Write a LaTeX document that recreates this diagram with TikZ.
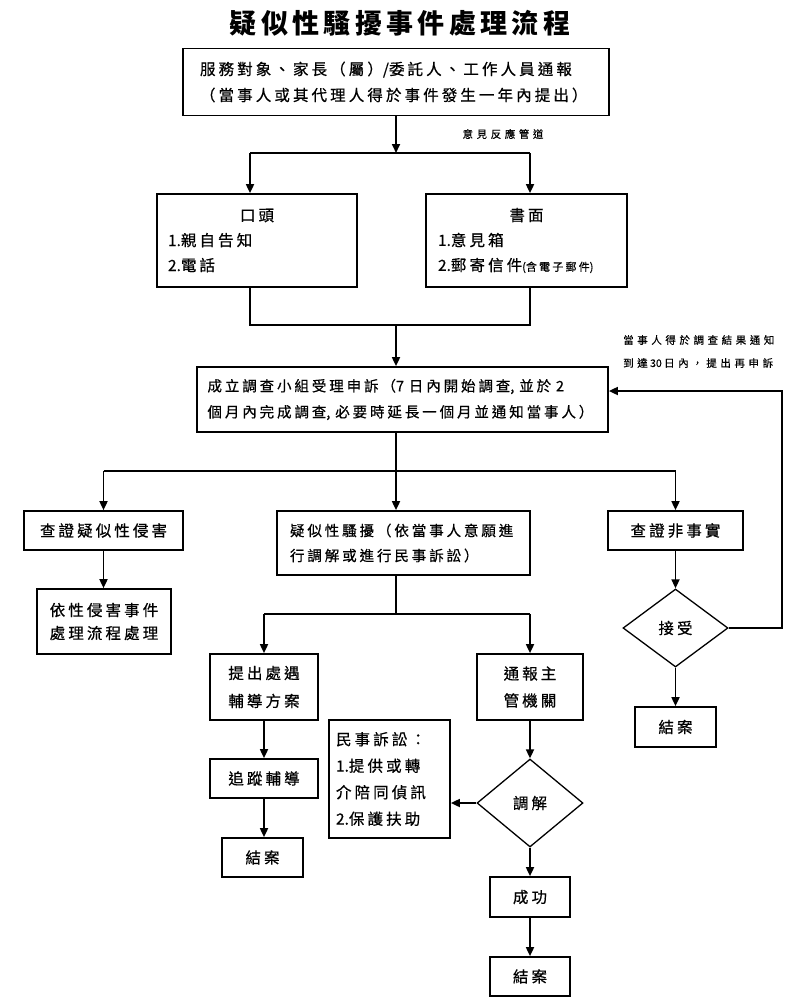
\documentclass[tikz,border=0pt]{standalone}
\usepackage{fontspec}
\setmainfont{Noto Sans CJK TC}[LetterSpace=20, FakeBold=0.6]
\newfontfamily\titlefont{Noto Sans CJK TC}[LetterSpace=16]
\newfontfamily\smallfont{Noto Sans CJK TC}[LetterSpace=34, FakeBold=0.5]
\newfontfamily\latinface{Noto Sans CJK TC}[FakeBold=0.6]
\newcommand\nls[1]{{\latinface #1}}
\usetikzlibrary{arrows.meta,shapes.geometric}
\begin{document}
\begin{tikzpicture}[x=1pt,y=-1pt,
  bx/.style={draw, line width=1.7pt, inner sep=0pt, font=\fontsize{15.5}{25}\selectfont},
  dm/.style={draw, line width=1.3pt, shape=diamond, inner sep=0pt, font=\fontsize{15.5}{25}\selectfont},
  ln/.style={line width=1.7pt},
  arr/.style={line width=1.7pt, -{Triangle[length=9pt,width=8pt]}},
  lbl/.style={font=\smallfont\fontsize{10.5}{23}\selectfont, inner sep=0pt}]
\useasboundingbox (0,0) rectangle (800,1006);
\fill[white] (0,0) rectangle (800,1006);
% title
\node[font=\titlefont\bfseries\fontsize{27}{30}\selectfont, inner sep=0pt] (title) at (400,23) {疑似性騷擾事件處理流程};
% boxes
\node[bx, minimum width=426pt, minimum height=67pt, text width=392pt, align=left, font=\fontsize{15.5}{26}\selectfont] (top) at (396,82)
  {服務對象、家長（屬）\nls{/}委託人、工作人員通報\\（當事人或其代理人得於事件發生一年內提出）};
\node[lbl] (chan) at (503,134) {意見反應管道};
\node[bx, minimum width=200pt, minimum height=93pt, text width=178pt, align=left] (oral) at (257,240.5)
  {\hfill 口頭\hfill\mbox{}\\\nls{1.}親自告知\\\nls{2.}電話};
\node[bx, minimum width=201pt, minimum height=93pt, text width=177pt, align=left] (written) at (526.5,240.5)
  {\hfill 書面\hfill\mbox{}\\\nls{1.}意見箱\\\nls{2.}郵寄信件{\fontsize{11}{25}\selectfont\nls{(}含電子郵件\nls{)}}};
\node[bx, minimum width=411pt, minimum height=65pt, text width=390pt, align=left, font=\fontsize{14.5}{26}\selectfont] (invest) at (402.5,399.5)
  {成立調查小組受理申訴（\nls{7~}日內開始調查\nls{,~}並於\nls{~2}\\個月內完成調查\nls{,~}必要時延長一個月並通知當事人）};
\node[lbl, anchor=west, align=left] (appeal) at (623,351.5)
  {當事人得於調查結果通知\\到達\nls{ 30 }日內，提出再申訴};
\node[bx, minimum width=159pt, minimum height=39pt, align=center] (rape) at (103.5,530.5) {查證疑似性侵害};
\node[bx, minimum width=134pt, minimum height=65pt, align=center, font=\fontsize{15.5}{23}\selectfont] (rapeproc) at (104,621.5)
  {依性侵害事件\\處理流程處理};
\node[bx, minimum width=253pt, minimum height=64pt, text width=227pt, align=left, font=\fontsize{14.5}{25}\selectfont] (harass) at (403.5,543)
  {疑似性騷擾（依當事人意願進\\行調解或進行民事訴訟）};
\node[bx, minimum width=135pt, minimum height=39pt, align=center] (nonfact) at (675.5,530.5) {查證非事實};
\node[dm, minimum width=105pt, minimum height=78pt] (accept) at (675.5,628) {接受};
\node[bx, minimum width=81pt, minimum height=40pt, align=center] (end1) at (675.5,727) {結案};
\node[bx, minimum width=108pt, minimum height=66pt, align=center, font=\fontsize{15.5}{28}\selectfont] (plan) at (264,687)
  {提出處遇\\輔導方案};
\node[bx, minimum width=108pt, minimum height=39pt, align=center] (follow) at (264,778.5) {追蹤輔導};
\node[bx, minimum width=81pt, minimum height=39pt, align=center] (end2) at (262.5,857.5) {結案};
\node[bx, minimum width=106pt, minimum height=66pt, align=center, font=\fontsize{15.5}{27}\selectfont] (report) at (530,687)
  {通報主\\管機關};
\node[dm, minimum width=106pt, minimum height=88pt] (mediate) at (530,803) {調解};
\node[bx, minimum width=121pt, minimum height=118pt, text width=107pt, align=left, font=\fontsize{15.5}{26.5}\selectfont] (civil) at (389.5,779)
  {民事訴訟：\\\nls{1.}提供或轉\\介陪同偵訊\\\nls{2.}保護扶助};
\node[bx, minimum width=80pt, minimum height=40pt, align=center] (success) at (530,897) {成功};
\node[bx, minimum width=80pt, minimum height=39pt, align=center] (end3) at (530,976.5) {結案};
% junction coordinates
\coordinate (j1) at (396,153);
\coordinate (j1l) at (250,153);
\coordinate (j1r) at (530,153);
\coordinate (j2l) at (250,325);
\coordinate (j2r) at (530,325);
\coordinate (j2c) at (396,325);
\coordinate (j3c) at (396,471);
\coordinate (j3l) at (103.5,471);
\coordinate (j3r) at (675.5,471);
\coordinate (j4c) at (396,614);
\coordinate (j4l) at (264,614);
\coordinate (j4r) at (530,614);
\coordinate (loopb) at (782,628);
\coordinate (loopt) at (782,391);
% connectors
\draw[arr] (top.south) -- (j1);
\draw[ln] (j1l) -- (j1r);
\draw[arr] (j1l) -- (j1l |- oral.north);
\draw[arr] (j1r) -- (j1r |- written.north);
\draw[ln] (j1l |- oral.south) -- (j2l) -- (j2r) -- (j1r |- written.south);
\draw[arr] (j2c) -- (j2c |- invest.north);
\draw[ln] (j2c |- invest.south) -- (j3c);
\draw[ln] (j3l) -- (j3r);
\draw[arr] (j3l) -- (rape.north);
\draw[arr] (j3c) -- (j3c |- harass.north);
\draw[arr] (j3r) -- (nonfact.north);
\draw[arr] (rape.south) -- (rape.south |- rapeproc.north);
\draw[ln] (j4c |- harass.south) -- (j4c);
\draw[ln] (j4l) -- (j4r);
\draw[arr] (j4l) -- (plan.north);
\draw[arr] (j4r) -- (report.north);
\draw[arr] (plan.south) -- (follow.north);
\draw[arr] (follow.south) -- (follow.south |- end2.north);
\draw[arr] (report.south) -- (mediate.north);
\draw[arr] (mediate.south) -- (success.north);
\draw[arr] (success.south) -- (end3.north);
\draw[arr] (mediate.west) -- (mediate.west -| civil.east);
\draw[arr] (nonfact.south) -- (accept.north);
\draw[arr] (accept.south) -- (end1.north);
\draw[arr] (accept.east) -- (loopb) -- (loopt) -- (loopt -| invest.east);
\end{tikzpicture}
\end{document}
